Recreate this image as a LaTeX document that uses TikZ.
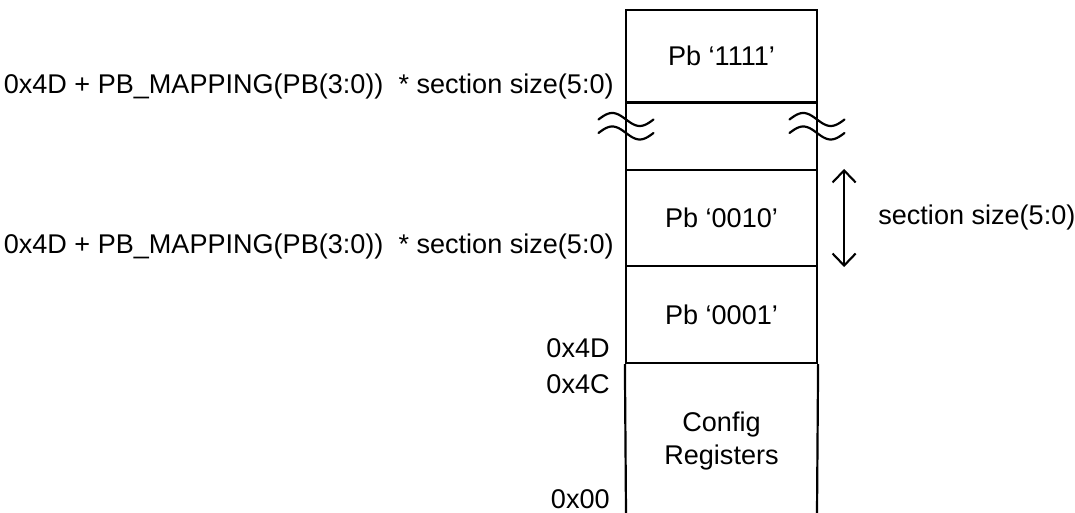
\documentclass[tikz,border=0pt]{standalone}
\usepackage{fontspec}
\setmainfont{Liberation Sans}
\usepackage{tikz}
\usetikzlibrary{arrows.meta, positioning}

\begin{document}
\begin{tikzpicture}[
          section/.style={
              draw=black,
              line width=1.25pt,
              minimum width=3.82cm,
              font=\fontsize{15.4}{19}\selectfont,
              align=center
            },
          addr/.style={font=\fontsize{15.4}{19}\selectfont, anchor=east, inner sep=0pt},
          wall/.style={line width=1.25pt},
          brk/.style={line width=1.25pt, line cap=round},
          sizearr/.style={{Straight Barb[length=0.24cm, width=0.46cm]}-{Straight Barb[length=0.24cm, width=0.46cm]}, line width=1.2pt}
        ]
        \useasboundingbox (0,0) rectangle (21.5,10.26);

        % memory map sections
        \node[section, minimum height=1.85cm] (pb1111) at (14.43,9.135) {Pb ‘1111’};
        \node[section, minimum height=1.35cm] (gap) at (14.43,7.535) {};
        \node[section, minimum height=1.92cm] (pb0010) at (14.43,5.90) {Pb ‘0010’};
        \node[section, minimum height=1.94cm] (pb0001) at (14.43,3.97) {Pb ‘0001’};
        \node[section, draw=none] (config) at (14.43,1.44) {Config\\Registers};

        \coordinate (cfgbl) at (12.52,0);
        \coordinate (cfgbr) at (16.34,0);
        \draw[wall] (pb0001.south west) -- (cfgbl);
        \draw[wall] (pb0001.south east) -- (cfgbr);

        % break marks
        \foreach \bx in {12.52,16.34}
          \foreach \by in {7.87,7.60}
            \draw[brk] plot[domain=-0.55:0.55, samples=40] ({\bx+\x},{\by-0.13*sin(\x*327)});

        % addresses
        \node[addr] (top1111) at (12.28,8.52) {0x4D + PB\_MAPPING(PB(3:0))\ \ * section size(5:0)};
        \node[addr] (top0010) at (12.28,5.32) {0x4D + PB\_MAPPING(PB(3:0))\ \ * section size(5:0)};
        \node[addr] (a4d) at (12.20,3.30) {0x4D};
        \node[addr] (a4c) at (12.20,2.58) {0x4C};
        \node[addr] (a00) at (12.20,0.27) {0x00};

        % section size
        \draw[sizearr] ([xshift=0.52cm]pb0010.north east) -- ([xshift=0.52cm]pb0010.south east);
        \node[addr, anchor=west] (secsize) at (17.56,5.90) {section size(5:0)};
      \end{tikzpicture}
\end{document}
